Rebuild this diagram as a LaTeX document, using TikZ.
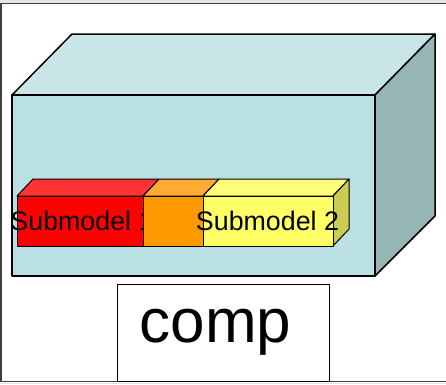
\documentclass[tikz,border=0pt]{standalone}
\usepackage{fontspec}
\setmainfont{Liberation Sans}
\definecolor{boxfront}{HTML}{BBE0E3}
\definecolor{boxtop}{HTML}{C8E5E8}
\definecolor{boxside}{HTML}{97B4B6}
\definecolor{redtop}{HTML}{FF3333}
\definecolor{orfront}{HTML}{FF9900}
\definecolor{ortop}{HTML}{FFAA33}
\definecolor{yefront}{HTML}{FFFF66}
\definecolor{yetop}{HTML}{FFFF77}
\definecolor{yeside}{HTML}{CCCC55}
\definecolor{framegray}{HTML}{E4E4E4}
\begin{document}
\begin{tikzpicture}[x=1pt,y=-1pt,line join=round,
  bigedge/.style={draw=black,line width=1.5pt},
  subedge/.style={draw=black,line width=1pt},
  framelinestyle/.style={draw=black!75,line width=1.8pt},
  sublabel/.style={inner sep=0pt,anchor=base,font=\fontsize{26.8}{32}\selectfont},
  complabel/.style={inner sep=0pt,anchor=base,font=\fontsize{62}{72}\selectfont}]
\useasboundingbox (0,0) rectangle (446,384);
% frame
\fill[white] (0,0) rectangle (446,384);
\fill[framegray] (0,0) rectangle (446,2.5);
\fill[framegray] (0,382.5) rectangle (446,384);
\draw[framelinestyle] (0,3.5) -- (446,3.5);
\draw[framelinestyle] (0,381.5) -- (446,381.5);
\draw[framelinestyle] (1,3.5) -- (1,381.5);
% big box
\path[bigedge,fill=boxtop] (12,95) -- (72,34) -- (435,34) -- (375,95) -- cycle;
\path[bigedge,fill=boxside] (375,95) -- (435,34) -- (435,216) -- (375,276) -- cycle;
\path[bigedge,fill=boxfront] (12,95) rectangle (375,276);
% submodel 1
\path[subedge,fill=redtop] (17,196) -- (33,179) -- (159,179) -- (143,196) -- cycle;
\path[subedge,fill=red] (17,196) rectangle (143,246);
\node[sublabel] (sub1) at (82,230.5) {Submodel 1};
% middle block
\path[subedge,fill=ortop] (143,196) -- (159,179) -- (219,179) -- (203,196) -- cycle;
\path[subedge,fill=orfront] (143,196) rectangle (203,246);
% submodel 2
\path[subedge,fill=yetop] (203,196) -- (219,179) -- (349,179) -- (333,196) -- cycle;
\path[subedge,fill=yeside] (333,196) -- (349,179) -- (349,229) -- (333,246) -- cycle;
\path[subedge,fill=yefront] (203,196) rectangle (333,246);
\node[sublabel] (sub2) at (267.5,230.5) {Submodel 2};
% comp box
\node[draw=black,line width=1.3pt,fill=white,inner sep=0pt,minimum width=212pt,minimum height=97pt,anchor=north west] (compbox) at (117,284) {};
\node[complabel] (comp) at (215.5,342) {comp};
\end{tikzpicture}
\end{document}
